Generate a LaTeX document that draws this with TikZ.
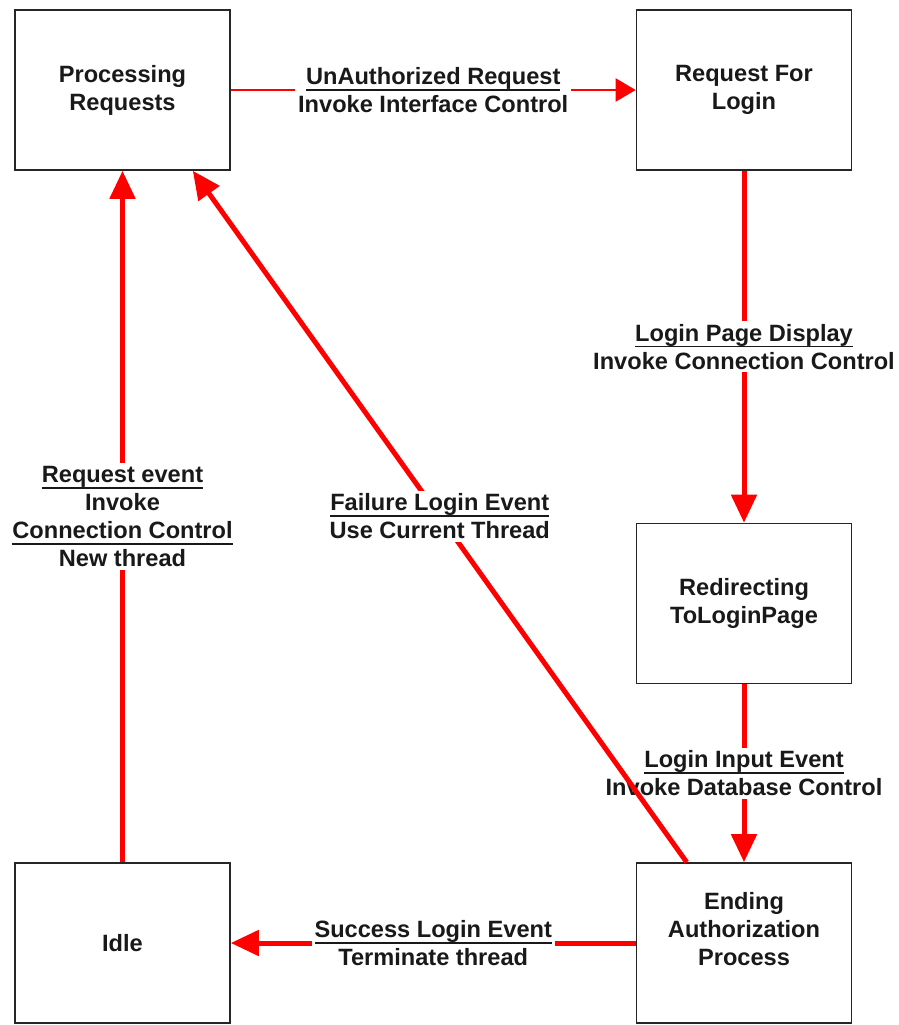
\documentclass[tikz,border=0pt]{standalone}
\usepackage{fontspec}
\setmainfont{Liberation Sans}
\usetikzlibrary{arrows.meta}
\newcommand{\undl}[1]{\leavevmode\setbox0\hbox{#1}\dp0=0pt\vtop{\box0\kern4.5pt\hrule height 1.8pt}}
\begin{document}
\begin{tikzpicture}
[
    x=1pt, y=-1pt,
    every node/.style={font=\fontsize{23.6}{28}\selectfont\bfseries, text=black!90},
    state/.style={draw=black!85, line width=1.6pt, fill=white, align=center, minimum width=215pt, minimum height=160pt},
    lbl/.style={fill=white, align=center, inner sep=3pt},
    thinflow/.style={draw=red, line width=2pt, -{Triangle[length=20pt, width=23pt]}},
    thickflow/.style={draw=red, line width=5pt, -{Triangle[length=28pt, width=25pt]}},
]
\useasboundingbox (0,0) rectangle (899,1025);
\node[state] (proc) at (122.5,90) {Processing\\Requests};
\node[state] (login) at (744,90) {Request For\\Login};
\node[state] (redirect) at (744,603.5) {Redirecting\\ToLoginPage};
\node[state] (ending) at (744,943) {Ending\\Authorization\\Process\\\mbox{}};
\node[state] (idle) at (122.5,943) {Idle};
\draw[thinflow] (proc) -- node[lbl] {\undl{UnAuthorized Request}\\Invoke Interface Control} (login);
\draw[thickflow] (login) -- node[lbl] {\undl{Login Page Display}\\Invoke Connection Control} (redirect);
\draw[thickflow] (redirect) -- node[lbl] {\undl{Login Input Event}\\Invoke Database Control} (ending);
\draw[thickflow] (ending) -- node[lbl] {\undl{Success Login Event}\\Terminate thread} (idle);
\draw[thickflow] (idle) -- node[lbl] {\undl{Request event}\\Invoke\\\undl{Connection Control}\\New thread} (proc);
\draw[thickflow] ([xshift=51pt]ending.north west) -- node[lbl] {\undl{Failure Login Event}\\Use Current Thread} ([xshift=-38pt]proc.south east);
\end{tikzpicture}
\end{document}
